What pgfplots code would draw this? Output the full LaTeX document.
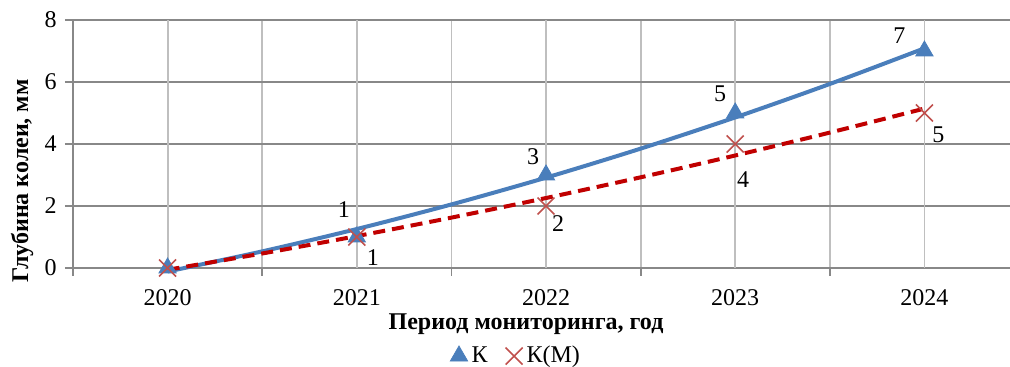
\documentclass[border=0pt]{standalone}
\usepackage{pgfplots}
\pgfplotsset{compat=1.18}
\usepackage{pgfplotstable}
\usepackage{fontspec}
\setmainfont{Liberation Serif}
\definecolor{kblue}{HTML}{4A7EBB}
\definecolor{kred}{HTML}{C0504D}
\definecolor{tred}{HTML}{C00000}
\definecolor{gridv}{HTML}{BFBFBF}
\definecolor{gridh}{HTML}{888888}
\pgfplotstableread{
x y
0 0
1 1
2 3
3 5
4 7
}\dataK
\pgfplotstableread{
x y
0 0
1 1
2 2
3 4
4 5
}\dataKM
\pgfplotstableread{
x y
0 -0.114
0.5 0.536
1 1.257
1.5 2.050
2 2.914
2.5 3.850
3 4.857
3.5 5.936
4 7.086
}\trendK
\pgfplotstableread{
x y
0 -0.057
0.5 0.468
1 1.029
1.5 1.625
2 2.257
2.5 2.925
3 3.629
3.5 4.368
4 5.143
}\trendKM
\pgfplotstableread{
x y dx dy lbl
1 1 -6.5 13.5 1
2 3 -6.5 9 3
3 5 -7.5 9.5 5
4 7 -12.5 7.5 7
}\labK
\pgfplotstableread{
x y dx dy lbl
1 1 8 -10.5 1
2 2 6 -9 2
3 4 4 -18 4
4 5 7 -11 5
}\labKM
\begin{document}
\fontsize{12pt}{14pt}\selectfont
\begin{tikzpicture}
\useasboundingbox (-36.5pt,-49.5pt) rectangle (468.5pt,134pt);
\begin{axis}[
  at={(0,0)}, anchor=south west,
  scale only axis, width=473pt, height=124pt,
  xmin=-0.5, xmax=4.5, ymin=0, ymax=8,
  clip=false,
  axis x line*=bottom, axis y line*=left,
  axis line style={draw=gridh, line width=0.9pt, -},
  xtick={-0.5,0.5,1.5,2.5,3.5}, xticklabels={},
  extra x ticks={0,1,2,3,4},
  extra x tick labels={2020,2021,2022,2023,2024},
  extra x tick style={major tick length=0pt, grid=major,
    xticklabel style={yshift=-6.5pt}},
  ytick={0,2,4,6,8},
  tick align=outside,
  major tick length=4pt,
  tick style={draw=gridh, line width=0.9pt},
  xmajorgrids, ymajorgrids,
  x grid style={draw=gridv, line width=0.9pt},
  y grid style={draw=gridh, line width=0.9pt},
  /pgf/number format/assume math mode=true,
  ticklabel style={font=\fontsize{12pt}{14pt}\selectfont},
  ylabel={Глубина колеи, мм},
  ylabel style={at={(axis description cs:-0.0539,0.351)}, anchor=center, font=\bfseries\fontsize{12pt}{14pt}\selectfont},
  xlabel={Период мониторинга, год},
  xlabel style={at={(axis description cs:0.4789,-0.226)}, anchor=center, font=\bfseries\fontsize{12pt}{14pt}\selectfont},
  legend style={at={(axis description cs:0.4695,-0.355)}, anchor=center, draw=none, fill=none,
    legend columns=2, inner sep=0pt,
    /tikz/every even column/.append style={column sep=7pt},
    font=\fontsize{12pt}{14pt}\selectfont},
  legend cell align=left,
  legend image code/.code={\draw[#1] plot coordinates {(0pt,0pt)};},
]
\addplot[kblue, line width=2pt, smooth, mark=none, forget plot] table {\trendK};
\addplot[tred, line width=2pt, smooth, mark=none, dash pattern=on 6pt off 3.5pt, forget plot] table {\trendKM};
\addplot[only marks, mark=triangle*, mark size=5pt, color=kblue, mark options={fill=kblue, draw=kblue}] table {\dataK};
\addlegendentry{К}
\addplot[only marks, mark=x, mark size=6pt, color=kred, mark options={line width=0.8pt, draw=kred}] table {\dataKM};
\addlegendentry{К(М)}
\addplot[draw=none, mark=none, forget plot, nodes near coords, point meta=explicit symbolic,
  visualization depends on={\thisrow{dx} \as \dx},
  visualization depends on={\thisrow{dy} \as \dy},
  every node near coord/.append style={anchor=center, xshift=\dx pt, yshift=\dy pt, inner sep=0pt, black}]
  table[meta=lbl] {\labK};
\addplot[draw=none, mark=none, forget plot, nodes near coords, point meta=explicit symbolic,
  visualization depends on={\thisrow{dx} \as \dx},
  visualization depends on={\thisrow{dy} \as \dy},
  every node near coord/.append style={anchor=center, xshift=\dx pt, yshift=\dy pt, inner sep=0pt, black}]
  table[meta=lbl] {\labKM};
\end{axis}
\end{tikzpicture}
\end{document}
